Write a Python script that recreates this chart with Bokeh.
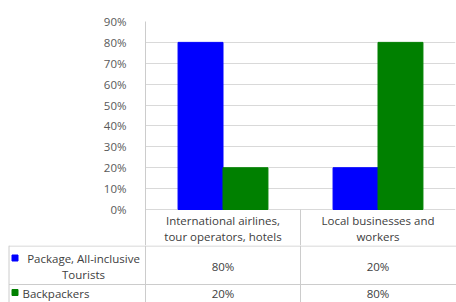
from bokeh.plotting import figure
from bokeh.models import FactorRange, Range1d, FixedTicker, NumeralTickFormatter, ColumnDataSource
from bokeh.transform import dodge
from bokeh.core.properties import value
from bokeh.embed import file_html
from bokeh.resources import INLINE

# ---- data ----
categories = ["International airlines, tour operators, hotels", "Local businesses and workers"]
category_labels = ["International airlines,\ntour operators, hotels", "Local businesses and\nworkers"]
series_labels = ["Package, All-inclusive\nTourists", "Backpackers"]
package_values = [0.80, 0.20]
backpacker_values = [0.20, 0.80]
y_ticks = [0.0, 0.1, 0.2, 0.3, 0.4, 0.5, 0.6, 0.7, 0.8, 0.9]
series_colors = ["#0000FF", "#008000"]

FONT = "Open Sans"
TEXT_COLOR = "#404040"
LINE_COLOR = "#cccccc"
FS = "11.5px"

LEFT = 145
W = 456
RIGHT = 1
CAT_W = (W - LEFT - RIGHT) / len(categories)

# chart frame: 90% .. 0% is PLOT_H pixels; it continues HEADER_H pixels below 0%
# to hold the table's header row (category names)
TOP = 21
PLOT_H = 188
HEADER_H = 36
y_max = 0.9
unit = y_max / PLOT_H           # data units per pixel
y_min = -HEADER_H * unit

# ---- chart ----
src = ColumnDataSource(dict(cat=categories, label=category_labels,
                            package=package_values, backpackers=backpacker_values))

p = figure(width=W, height=TOP + PLOT_H + HEADER_H,
           x_range=FactorRange(factors=categories, range_padding=0),
           y_range=Range1d(y_min, y_max), output_backend="svg", toolbar_location=None,
           x_axis_location=None, min_border_left=LEFT, min_border_right=RIGHT,
           min_border_top=TOP, min_border_bottom=0)
p.outline_line_color = None
p.background_fill_color = "white"
p.border_fill_color = "white"
p.xgrid.visible = False
p.ygrid.ticker = FixedTicker(ticks=y_ticks)
p.ygrid.grid_line_color = "#d9d9d9"
p.yaxis.ticker = FixedTicker(ticks=y_ticks)
p.yaxis.formatter = NumeralTickFormatter(format="0%")
p.yaxis.axis_line_color = LINE_COLOR
p.yaxis.major_tick_line_color = None
p.yaxis.minor_tick_line_color = None
p.yaxis.major_label_text_font = FONT
p.yaxis.major_label_text_font_size = FS
p.yaxis.major_label_text_color = "#595959"
p.yaxis.major_label_standoff = 13

p.vbar(x=dodge("cat", -0.145, range=p.x_range), top="package", width=0.29, source=src,
       fill_color=series_colors[0], line_color=series_colors[0])
p.vbar(x=dodge("cat", 0.145, range=p.x_range), top="backpackers", width=0.29, source=src,
       fill_color=series_colors[1], line_color=series_colors[1])

# table header row: category names and the cell divider
div_src = ColumnDataSource(dict(cat=categories[:-1]))
p.segment(x0=dodge("cat", 0.5, range=p.x_range), y0=y_min, x1=dodge("cat", 0.5, range=p.x_range),
          y1=0, source=div_src, line_color=LINE_COLOR, line_width=1)
p.text(x="cat", y=-19 * unit, text="label", source=src, text_align="center",
       text_baseline="middle", text_font=value(FONT), text_font_size=FS,
       text_color=TEXT_COLOR, text_line_height=1.02)

# ---- data rows (separate root so its frame spans the full width) ----
ncat = len(categories)
left_col = -LEFT / CAT_W
px = lambda n: n / CAT_W  # pixel offset -> table x units
TH = 57
t = figure(width=W, height=TH, x_range=Range1d(left_col, ncat + px(RIGHT)), y_range=Range1d(TH, 0),
           output_backend="svg", toolbar_location=None, x_axis_location=None,
           y_axis_location=None, min_border=0)
t.grid.visible = False
t.outline_line_color = None
t.background_fill_color = "white"
t.border_fill_color = "white"

x_edge = left_col + px(8.5)
right_edge = ncat + px(RIGHT)
t.segment(x0=[x_edge, x_edge, x_edge, 0] + list(range(1, ncat)),
          y0=[0.5, 39, 0, 0] + [0] * (ncat - 1),
          x1=[right_edge, right_edge, x_edge, 0] + list(range(1, ncat)),
          y1=[0.5, 39, TH, TH] + [TH] * (ncat - 1),
          line_color=LINE_COLOR, line_width=1)

centers = [i + 0.5 for i in range(ncat)]
pct = lambda v: f"{round(v * 100)}%"
t.text(x=centers, y=[20.5] * ncat, text=[pct(v) for v in package_values], text_align="center",
       text_baseline="middle", text_font=value(FONT), text_font_size=FS, text_color=TEXT_COLOR)
t.text(x=centers, y=[47.5] * ncat, text=[pct(v) for v in backpacker_values], text_align="center",
       text_baseline="middle", text_font=value(FONT), text_font_size=FS, text_color=TEXT_COLOR)

key_x = left_col + px(14.5)
t.scatter(x=[key_x, key_x], y=[12.5, 47], marker="square", size=6,
          fill_color=series_colors, line_color=series_colors)
t.text(x=[left_col + px(83)], y=[21], text=[series_labels[0]], text_align="center",
       text_baseline="middle", text_font=value(FONT), text_font_size=FS,
       text_color=TEXT_COLOR, text_line_height=1.02)
t.text(x=[left_col + px(22)], y=[47.5], text=[series_labels[1]], text_align="left",
       text_baseline="middle", text_font=value(FONT), text_font_size=FS, text_color=TEXT_COLOR)

open("out.html", "w").write(file_html([p, t], INLINE))
